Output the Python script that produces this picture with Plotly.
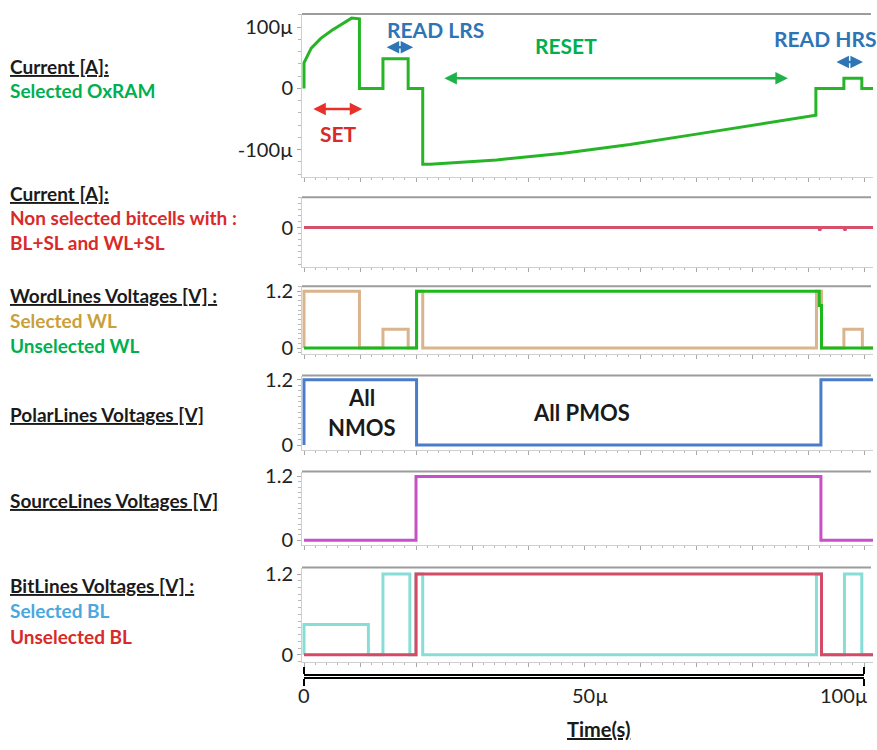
import plotly.graph_objects as go

W, H = 877, 750
FONT = "Lato, 'Open Sans', sans-serif"


def px(x):
    return x / W


def py(y):
    return 1 - y / H


# ---------------- data (time in µs) ----------------
# Panel 1: selected OxRAM current (µA)
t_oxram = [0, 0, 1.3, 3.0, 5.0, 7.5, 8.5, 9.9, 9.9, 14.1, 14.1, 18.6, 18.6, 21.2, 21.2,
           22.5, 34.4, 46.3, 58.2, 70.1, 82.0, 91.4, 91.4, 96.4, 96.4, 99.6, 99.6, 101.6]
i_oxram = [0, 41.6, 65.6, 81.6, 94.9, 109.0, 114.7, 113.6, 0, 0, 48.5, 48.5, 0, 0, -124,
           -123.7, -116.8, -106.0, -91.7, -74.7, -57.0, -43.7, 0, 0, 16.5, 16.5, 0, 0]

# Panel 2: non selected bitcells current (arbitrary small units)
t_nonsel = [0, 91.9, 92.1, 92.3, 96.4, 96.6, 96.8, 101.6]
i_nonsel = [0, 0, -0.1, 0, 0, -0.1, 0, 0]

# Panel 3: wordlines (V) - step data (hv)
t_wl_sel = [0, 0, 9.9, 14.1, 18.6, 20.1, 21.2, 91.5, 92.4, 96.4, 99.7, 101.6]
v_wl_sel = [0, 1.2, 0, 0.4, 0, 1.2, 0, 1.2, 0, 0.4, 0, 0]
t_wl_unsel = [0, 20.1, 92.0, 92.4, 101.6]
v_wl_unsel = [0, 1.2, 0.9, 0, 0]

# Panel 4: polarlines (V)
t_pl = [0, 0, 20.1, 92.3, 101.6]
v_pl = [0, 1.2, 0, 1.2, 1.2]

# Panel 5: sourcelines (V)
t_sl = [0, 20.0, 92.3, 101.6]
v_sl = [0, 1.2, 0, 0]

# Panel 6: bitlines (V)
t_bl_sel = [0, 0, 11.5, 14.1, 18.9, 20.0, 21.2, 91.5, 92.4, 96.5, 99.6, 101.6]
v_bl_sel = [0, 0.45, 0, 1.2, 0, 1.2, 0, 1.2, 0, 1.2, 0, 0]
t_bl_unsel = [0, 20.0, 92.4, 101.6]
v_bl_unsel = [0, 1.2, 0, 0]

# tick labels
cur_tickvals = [100, 0, -100]
cur_ticktext = ["100µ", "0", "-100µ"]
volt_tickvals = [0, 1.2]
volt_ticktext = ["0", "1.2"]
time_tickvals = [0, 50, 100]
time_ticktext = ["0", "50µ", "100µ"]

# ---------------- layout geometry ----------------
XDOM = [px(302), px(873)]
XRANGE = [-0.357, 101.6]

panels = [
    # top px, bottom px, y range, tickvals, ticktext, minor dtick
    (5, 171, [-144, 121.6], cur_tickvals, cur_ticktext, 20),
    (192, 263, [-1.29, 1.0], [0], ["0"], 0.2),
    (283, 352, [-0.124, 1.303], volt_tickvals, volt_ticktext, 0.1),
    (374, 450, [-0.09, 1.277], volt_tickvals, volt_ticktext, 0.1),
    (472, 547, [-0.092, 1.292], volt_tickvals, volt_ticktext, 0.1),
    (570, 666, [-0.102, 1.295], volt_tickvals, volt_ticktext, 0.1),
]

fig = go.Figure()

traces = [
    (1, t_oxram, i_oxram, "#27b527", "linear"),
    (2, t_nonsel, i_nonsel, "#d6506c", "linear"),
    (3, t_wl_sel, v_wl_sel, "#d9b48c", "hv"),
    (3, t_wl_unsel, v_wl_unsel, "#1cb81c", "hv"),
    (4, t_pl, v_pl, "#4a7cc9", "hv"),
    (5, t_sl, v_sl, "#c94fc6", "hv"),
    (6, t_bl_sel, v_bl_sel, "#88ddd7", "hv"),
    (6, t_bl_unsel, v_bl_unsel, "#d64a68", "hv"),
]
for k, tx, vy, col, shp in traces:
    fig.add_trace(go.Scatter(
        x=tx, y=vy, mode="lines",
        line=dict(color=col, width=3, shape=shp),
        xaxis="x" if k == 1 else f"x{k}",
        yaxis="y" if k == 1 else f"y{k}",
        showlegend=False, hoverinfo="skip",
    ))

layout = dict(
    width=W, height=H,
    margin=dict(l=0, r=0, t=0, b=0),
    paper_bgcolor="white", plot_bgcolor="white",
    font=dict(family=FONT, size=20, color="#222"),
    showlegend=False,
)
shapes = []
for idx, (top, bot, yr, tv, tt, mdt) in enumerate(panels, start=1):
    sx = "" if idx == 1 else str(idx)
    layout[f"xaxis{sx}"] = dict(
        domain=XDOM, range=XRANGE, anchor=f"y{sx}",
        showgrid=False, zeroline=False, showline=True,
        linecolor="#cfcfcf", linewidth=1,
        ticks="outside", dtick=10, tick0=0, ticklen=4, tickcolor="#a8a8a8",
        minor=dict(ticks="outside", dtick=2, ticklen=2, tickcolor="#b8b8b8"),
        showticklabels=False, fixedrange=True,
    )
    layout[f"yaxis{sx}"] = dict(
        domain=[py(bot), py(top)], range=yr, anchor=f"x{sx}",
        showgrid=False, zeroline=False, showline=True,
        linecolor="#cfcfcf", linewidth=1,
        ticks="outside", tickvals=tv, ticktext=tt, ticklen=4, tickcolor="#a8a8a8",
        minor=dict(ticks="outside", dtick=mdt, ticklen=3, tickcolor="#b8b8b8"),
        tickfont=dict(size=20, color="#222", family=FONT),
        fixedrange=True,
    )
    shapes.append(dict(type="line", xref="paper", yref="paper",
                       x0=XDOM[0], x1=px(871), y0=py(top), y1=py(top),
                       line=dict(color="#9c9c9c", width=2)))

# time axis (black, with end caps)
layout["xaxis7"] = dict(
    domain=[px(304), px(864)], range=[0, 100], anchor="y7",
    showgrid=False, zeroline=False, showline=True, linecolor="black", linewidth=2,
    ticks="outside", tickvals=[0, 100], ticklen=7, tickwidth=2, tickcolor="black",
    mirror="ticks", showticklabels=False, fixedrange=True,
)
layout["yaxis7"] = dict(
    domain=[py(681.5), py(680.5)], range=[0, 1], anchor="x7",
    showgrid=False, zeroline=False, showline=False, showticklabels=False,
    ticks="", fixedrange=True,
)

ann = []


def label(text, x, y, color="#1a1a1a", size=19, anchor="left"):
    ann.append(dict(text=text, x=px(x), y=py(y), xref="paper", yref="paper",
                    xanchor=anchor, yanchor="middle", showarrow=False,
                    font=dict(family=FONT, size=size, color=color)))


GREEN = "#00b050"
RED = "#d92a2a"
GOLD = "#c9a03a"
LBLUE = "#4aa8de"
BLUE = "#2e75b6"

label("<b><u>Current [A]:</u></b>", 8, 59)
label("<b>Selected OxRAM</b>", 8, 83, GREEN)
label("<b><u>Current [A]:</u></b>", 8, 188)
label("<b>Non selected bitcells with :</b>", 8, 213, RED)
label("<b>BL+SL and WL+SL</b>", 8, 238, RED)
label("<b><u>WordLines Voltages [V] :</u></b>", 8, 292)
label("<b>Selected WL</b>", 8, 318, GOLD)
label("<b>Unselected WL</b>", 8, 343, GREEN)
label("<b><u>PolarLines Voltages [V]</u></b>", 8, 414)
label("<b><u>SourceLines Voltages [V]</u></b>", 8, 502)
label("<b><u>BitLines Voltages [V] :</u></b>", 8, 588)
label("<b>Selected BL</b>", 8, 614, LBLUE)
label("<b>Unselected BL</b>", 8, 640, RED)

# phase labels in panel 1 (data coords: µs, µA)
phase_text = [("<b>SET</b>", 6.1, -74, RED),
              ("<b>READ LRS</b>", 23.4, 96, BLUE),
              ("<b>RESET</b>", 46.8, 70, GREEN),
              ("<b>READ HRS</b>", 93.0, 82, BLUE)]
for txt, tx, ty, col in phase_text:
    ann.append(dict(text=txt, x=tx, y=ty, xref="x", yref="y", showarrow=False,
                    xanchor="center", yanchor="middle",
                    font=dict(family=FONT, size=21, color=col)))

phase_arrows = [(1.4, 10.4, -33.6, "#e8302a"),
                (14.5, 19.5, 67, BLUE),
                (24.8, 86.4, 16.5, "#1fb24a"),
                (94.8, 99.8, 43, BLUE)]
for x0, x1, yv, col in phase_arrows:
    ann.append(dict(text="", x=x1, y=yv, ax=x0, ay=yv, xref="x", yref="y",
                    axref="x", ayref="y", showarrow=True, arrowhead=2,
                    arrowside="end+start", arrowsize=1, arrowwidth=2.5,
                    arrowcolor=col, standoff=0, startstandoff=0))

# NMOS / PMOS labels in polarline panel
for txt, tx, ty in [("<b>All</b>", 10.3, 0.87), ("<b>NMOS</b>", 10.3, 0.33),
                    ("<b>All PMOS</b>", 49.6, 0.6)]:
    ann.append(dict(text=txt, x=tx, y=ty, xref="x4", yref="y4", showarrow=False,
                    xanchor="center", yanchor="middle",
                    font=dict(family=FONT, size=22, color="#1a1a1a")))

# time axis labels
for tv, tt, anc, sh in zip(time_tickvals, time_ticktext,
                           ["center", "center", "right"], [0, 6, 6]):
    ann.append(dict(text=tt, x=tv, y=py(700), xref="x7", yref="paper",
                    xanchor=anc, yanchor="middle", showarrow=False, xshift=sh,
                    font=dict(family=FONT, size=20, color="#222")))
label("<b><u>Time(s)</u></b>", 598, 735, "#1a1a1a", 20, "center")

layout["annotations"] = ann
layout["shapes"] = shapes
fig.update_layout(**layout)

fig.write_html("out.html")
